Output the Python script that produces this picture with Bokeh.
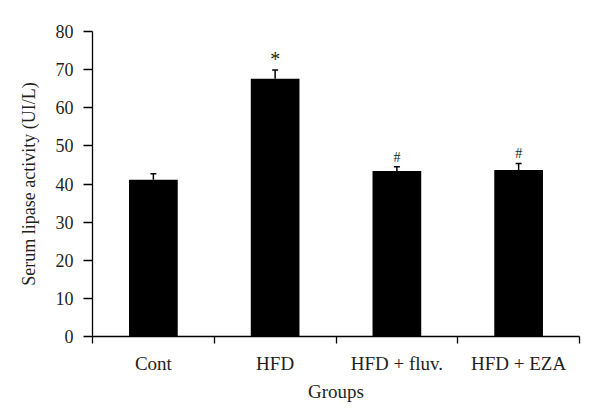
from bokeh.plotting import figure
from bokeh.models import (ColumnDataSource, FixedTicker, Whisker, TeeHead, Range1d,
                          CDSView, IndexFilter)
from bokeh.core.properties import value
from bokeh.embed import file_html
from bokeh.resources import INLINE

# ---- data ----
groups = ["Cont", "HFD", "HFD + fluv.", "HFD + EZA"]
lipase = [41.1, 67.6, 43.4, 43.7]
sem = [1.6, 2.3, 1.1, 1.7]
marks = ["", "*", "#", "#"]
y_ticks = [0, 10, 20, 30, 40, 50, 60, 70, 80]

xpos = [i + 0.5 for i in range(len(groups))]
tops = [v + e for v, e in zip(lipase, sem)]
src = ColumnDataSource(dict(x=xpos, v=lipase, top=tops, mark=marks))

FONT = "Liberation Serif"
TXT = "#231f20"

p = figure(width=592, height=411, output_backend="svg", toolbar_location=None,
           x_range=Range1d(0, len(groups)), y_range=Range1d(0, 80),
           min_border_left=92, min_border_top=31, min_border_right=13,
           min_border_bottom=75)
p.outline_line_color = None
p.grid.visible = False
p.background_fill_color = "white"
p.border_fill_color = "white"

p.vbar(x="x", top="v", width=0.4, bottom=0, source=src,
       fill_color="black", line_color=None)

w = Whisker(base="x", lower="v", upper="top", source=src, dimension="height",
            line_color="black", line_width=1.5,
            upper_head=TeeHead(size=6, line_color="black", line_width=1.5),
            lower_head=None)
p.add_layout(w)

star_idx = [i for i, m in enumerate(marks) if m == "*"]
hash_idx = [i for i, m in enumerate(marks) if m == "#"]
p.text(x="x", y="top", text="mark", source=src, view=CDSView(filter=IndexFilter(star_idx)),
       text_align="center", text_baseline="bottom", y_offset=0,
       text_font=value(FONT), text_font_size="20px", text_color=TXT)
p.text(x="x", y="top", text="mark", source=src, view=CDSView(filter=IndexFilter(hash_idx)),
       text_align="center", text_baseline="bottom", y_offset=-2,
       text_font=value(FONT), text_font_size="14px", text_color=TXT)

# x axis: labels at centres, ticks at group boundaries
xa = p.xaxis[0]
xa.ticker = FixedTicker(ticks=xpos, minor_ticks=list(range(len(groups) + 1)))
xa.major_label_overrides = {x: g for x, g in zip(xpos, groups)}
xa.major_tick_out = 0
xa.major_tick_in = 0
xa.minor_tick_out = 7
xa.minor_tick_in = 0
xa.minor_tick_line_color = "black"
xa.minor_tick_line_width = 1.3
xa.axis_line_color = "black"
xa.axis_line_width = 1.3
xa.major_label_standoff = 9
xa.major_label_text_font = FONT
xa.major_label_text_font_size = "19px"
xa.major_label_text_color = TXT
xa.axis_label = "Groups"
xa.axis_label_standoff = 4
xa.axis_label_text_font = FONT
xa.axis_label_text_font_size = "19px"
xa.axis_label_text_font_style = "normal"
xa.axis_label_text_color = TXT

ya = p.yaxis[0]
ya.ticker = FixedTicker(ticks=y_ticks)
ya.major_tick_out = 9
ya.major_tick_in = 0
ya.minor_tick_line_color = None
ya.major_tick_line_color = "black"
ya.major_tick_line_width = 1.3
ya.axis_line_color = "black"
ya.axis_line_width = 1.3
ya.major_label_standoff = 10
ya.major_label_text_font = FONT
ya.major_label_text_font_size = "18px"
ya.major_label_text_color = TXT
ya.axis_label = "Serum lipase activity (UI/L)"
ya.axis_label_standoff = 14
ya.axis_label_text_font = FONT
ya.axis_label_text_font_size = "18px"
ya.axis_label_text_font_style = "normal"
ya.axis_label_text_color = TXT

open("out.html", "w").write(file_html(p, INLINE))
